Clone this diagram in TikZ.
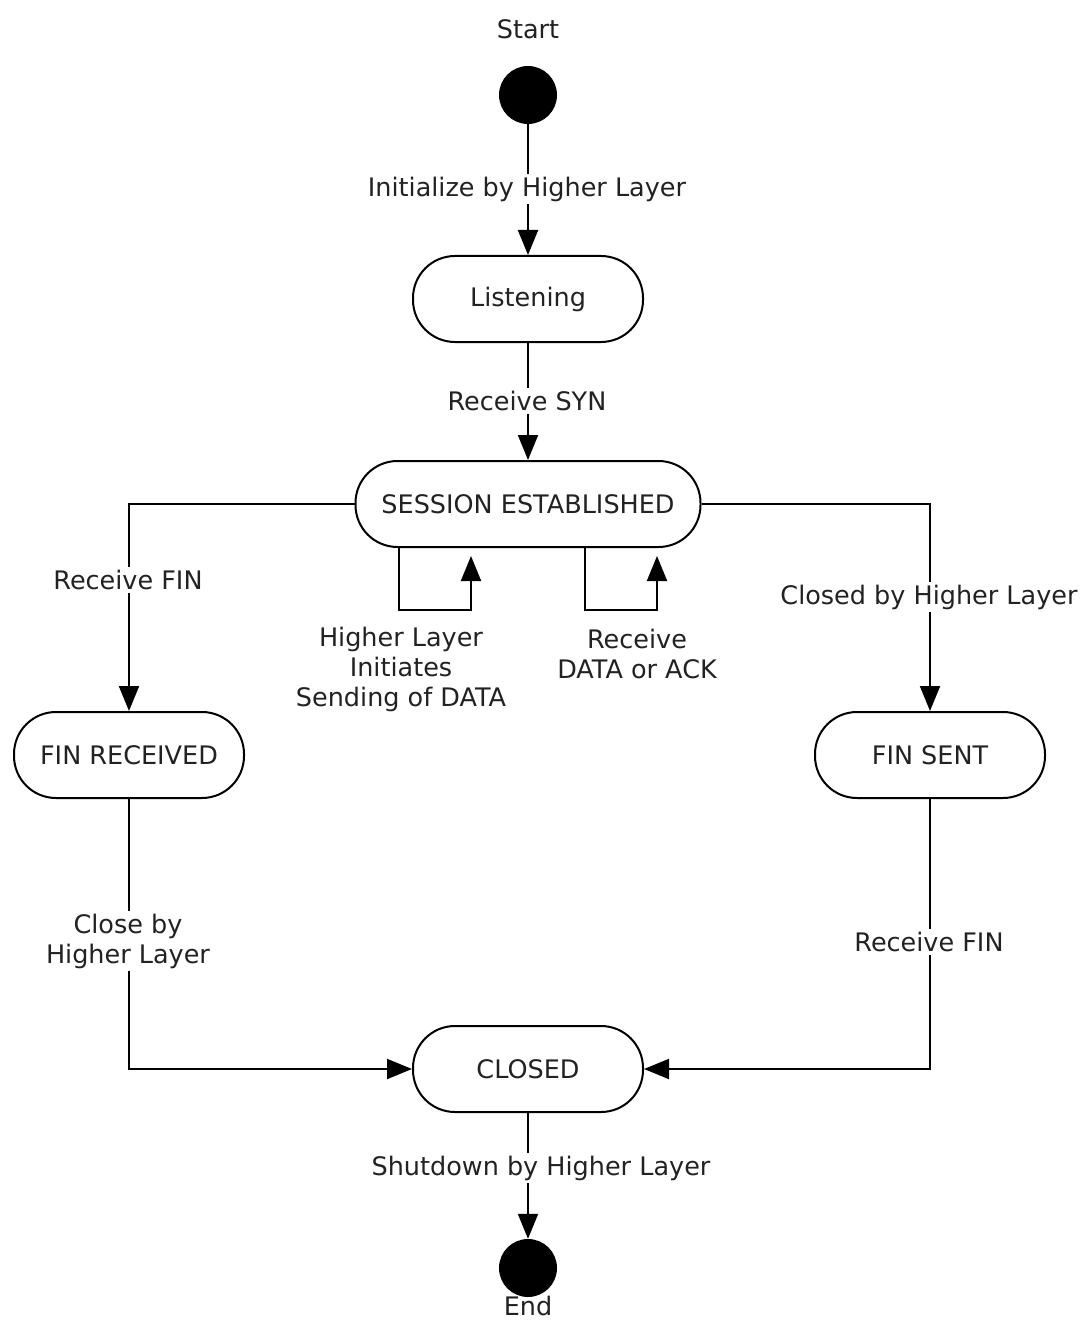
\documentclass[tikz,border=0pt]{standalone}
\usepackage{fontspec}
\setmainfont{DejaVu Sans}
\usetikzlibrary{arrows.meta}
\definecolor{ink}{HTML}{222222}
\begin{document}
\begin{tikzpicture}[x=1pt,y=-1pt,
  every node/.style={text=ink, font=\fontsize{25.5}{30}\selectfont},
  state/.style={draw=black, line width=2pt, rounded corners=42pt, minimum width=230pt, minimum height=86pt, inner sep=0pt},
  dot/.style={circle, fill=black, draw=none, minimum size=58pt, inner sep=0pt},
  lbl/.style={fill=white, inner sep=3pt, align=center},
  arr/.style={draw=black, line width=2pt, -{Triangle[length=25pt,width=20pt]}}
]
\fill[white] (0,0) rectangle (1082,1321);
\useasboundingbox (0,0) rectangle (1082,1321);

\node[dot] (start) at (528,95) {};
\node[dot] (end) at (528,1268) {};
\node (startlbl) at (528,29) {Start};
\node[inner sep=1pt] (endlbl) at (528,1306) {End};

\node[state] (listen) at (528,299) {Listening};
\node[state, minimum width=345pt] (sess) at (528,504) {SESSION ESTABLISHED};
\node[state] (finr) at (129,755) {FIN RECEIVED};
\node[state] (fins) at (930,755) {FIN SENT};
\node[state] (closed) at (528,1069) {CLOSED};

\draw[arr] (start) -- (listen);
\draw[arr] (listen) -- (sess);
\draw[arr] (sess.west) -| (finr.north);
\draw[arr] (sess.east) -| (fins.north);
\draw[arr] ([xshift=-129pt]sess.south) -- ++(0,62) -| ([xshift=-57pt,yshift=-8pt]sess.south);
\draw[arr] ([xshift=57pt]sess.south) -- ++(0,62) -| ([xshift=129pt,yshift=-8pt]sess.south);
\draw[arr] (finr.south) |- (closed.west);
\draw[arr] (fins.south) |- (closed.east);
\draw[arr] (closed) -- (end);

\node[lbl] (l1) at (527,189) {Initialize by Higher Layer};
\node[lbl] (l2) at (527,401) {Receive SYN};
\node[lbl] (l3) at (128,580) {Receive FIN};
\node[lbl] (l4) at (929,597) {Closed by Higher Layer};
\node[lbl] (l5) at (401,669) {Higher Layer\\Initiates\\Sending of DATA};
\node[lbl] (l6) at (637,654) {Receive\\DATA or ACK};
\node[lbl] (l7) at (128,941) {Close by\\Higher Layer};
\node[lbl] (l8) at (929,942) {Receive FIN};
\node[lbl] (l9) at (541,1168) {Shutdown by Higher Layer};
\end{tikzpicture}
\end{document}
